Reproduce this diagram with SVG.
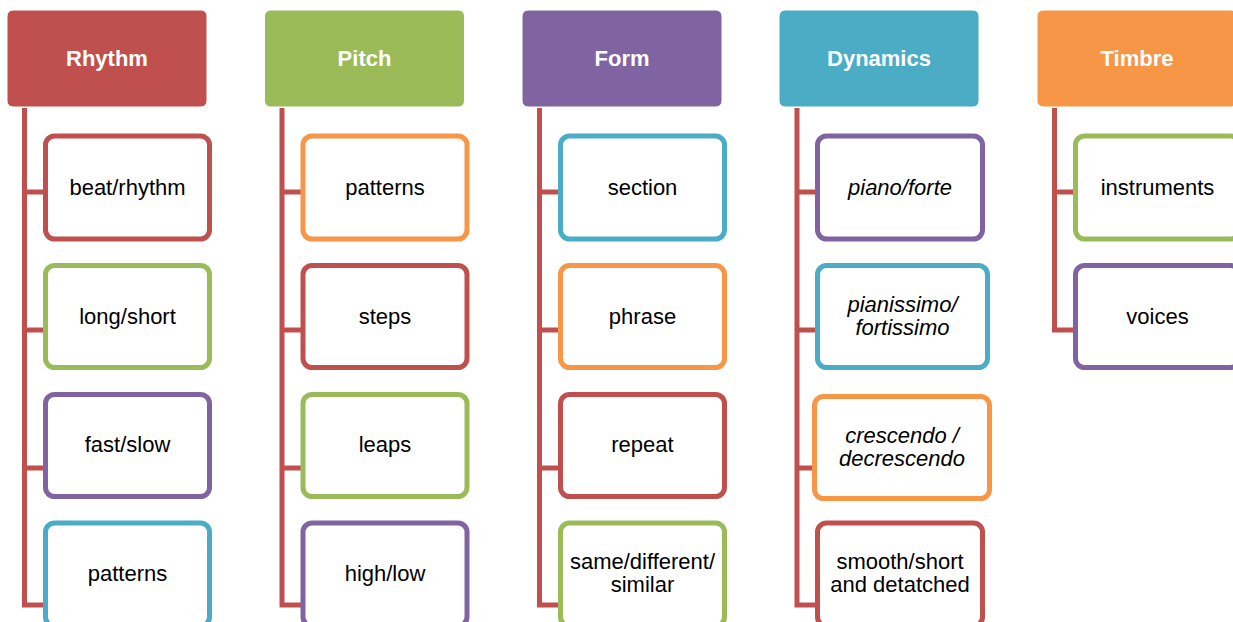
<svg xmlns="http://www.w3.org/2000/svg" width="1233" height="622" viewBox="0 0 1233 622">
  <style>
    .hdr { stroke: #ffffff; stroke-width: 1; }
    .hdr-text { font-family: "Liberation Sans", Arial, sans-serif; font-size: 22px; font-weight: bold; fill: #ffffff; text-anchor: middle; }
    .box { fill: #ffffff; stroke-width: 5; }
    .lbl { font-family: "Liberation Sans", Arial, sans-serif; font-size: 22px; fill: #000000; text-anchor: middle; }
    .it { font-style: italic; }
    .red { stroke: #C0504D; }
    .green { stroke: #9BBB59; }
    .purple { stroke: #8064A2; }
    .teal { stroke: #4BACC6; }
    .orange { stroke: #F79646; }
    .conn { fill: none; stroke: #C0504D; stroke-width: 5; }
  </style>

  <rect width="1233" height="622" fill="#ffffff"/>

  <!-- connectors: trunk from each header with a branch to every child -->
  <g id="connectors" class="conn">
    <path d="M24.5 108 V607.5 M24.5 192 H45 M24.5 330 H45 M24.5 468 H45 M24.5 605 H45"/>
    <path d="M282 108 V607.5 M282 192 H302 M282 330 H302 M282 468 H302 M282 605 H302"/>
    <path d="M539.5 108 V607.5 M539.5 192 H560 M539.5 330 H560 M539.5 468 H560 M539.5 605 H560"/>
    <path d="M797 108 V607.5 M797 192 H817 M797 330 H817 M797 468 H814 M797 605 H817"/>
    <path d="M1054.5 108 V332.5 M1054.5 192 H1075 M1054.5 330 H1075"/>
  </g>

  <!-- Rhythm -->
  <g id="rhythm">
    <rect class="hdr" x="7" y="10" width="200" height="97" rx="6" fill="#C0504D"/>
    <text class="hdr-text" x="107" y="66">Rhythm</text>
  </g>
  <g id="rhythm-beat">
    <rect class="box red" x="45.5" y="136" width="164" height="103" rx="9"/>
    <text class="lbl" x="127.5" y="195">beat/rhythm</text>
  </g>
  <g id="rhythm-length">
    <rect class="box green" x="45.5" y="265.5" width="164" height="102" rx="9"/>
    <text class="lbl" x="127.5" y="324">long/short</text>
  </g>
  <g id="rhythm-tempo">
    <rect class="box purple" x="45.5" y="394.5" width="164" height="102" rx="9"/>
    <text class="lbl" x="127.5" y="452">fast/slow</text>
  </g>
  <g id="rhythm-patterns">
    <rect class="box teal" x="45.5" y="523" width="164" height="103" rx="9"/>
    <text class="lbl" x="127.5" y="581">patterns</text>
  </g>

  <!-- Pitch -->
  <g id="pitch">
    <rect class="hdr" x="264.5" y="10" width="200" height="97" rx="6" fill="#9BBB59"/>
    <text class="hdr-text" x="364.5" y="66">Pitch</text>
  </g>
  <g id="pitch-patterns">
    <rect class="box orange" x="303" y="136" width="164" height="103" rx="9"/>
    <text class="lbl" x="385" y="195">patterns</text>
  </g>
  <g id="pitch-steps">
    <rect class="box red" x="303" y="265.5" width="164" height="102" rx="9"/>
    <text class="lbl" x="385" y="324">steps</text>
  </g>
  <g id="pitch-leaps">
    <rect class="box green" x="303" y="394.5" width="164" height="102" rx="9"/>
    <text class="lbl" x="385" y="452">leaps</text>
  </g>
  <g id="pitch-register">
    <rect class="box purple" x="303" y="523" width="164" height="103" rx="9"/>
    <text class="lbl" x="385" y="581">high/low</text>
  </g>

  <!-- Form -->
  <g id="form">
    <rect class="hdr" x="522" y="10" width="200" height="97" rx="6" fill="#8064A2"/>
    <text class="hdr-text" x="622" y="66">Form</text>
  </g>
  <g id="form-section">
    <rect class="box teal" x="560.5" y="136" width="164" height="103" rx="9"/>
    <text class="lbl" x="642.5" y="195">section</text>
  </g>
  <g id="form-phrase">
    <rect class="box orange" x="560.5" y="265.5" width="164" height="102" rx="9"/>
    <text class="lbl" x="642.5" y="324">phrase</text>
  </g>
  <g id="form-repeat">
    <rect class="box red" x="560.5" y="394.5" width="164" height="102" rx="9"/>
    <text class="lbl" x="642.5" y="452">repeat</text>
  </g>
  <g id="form-compare">
    <rect class="box green" x="560.5" y="523" width="164" height="103" rx="9"/>
    <text class="lbl" x="642.5" y="569">same/different/</text>
    <text class="lbl" x="642.5" y="592">similar</text>
  </g>

  <!-- Dynamics -->
  <g id="dynamics">
    <rect class="hdr" x="779" y="10" width="200" height="97" rx="6" fill="#4BACC6"/>
    <text class="hdr-text" x="879" y="66">Dynamics</text>
  </g>
  <g id="dynamics-pf">
    <rect class="box purple" x="817.5" y="136" width="165" height="103" rx="9"/>
    <text class="lbl it" x="900" y="195">piano/forte</text>
  </g>
  <g id="dynamics-ppff">
    <rect class="box teal" x="817.5" y="265.5" width="170" height="102" rx="9"/>
    <text class="lbl it" x="902.5" y="312">pianissimo/</text>
    <text class="lbl it" x="902.5" y="335">fortissimo</text>
  </g>
  <g id="dynamics-cresc">
    <rect class="box orange" x="814.5" y="396.5" width="175" height="102" rx="9"/>
    <text class="lbl it" x="902" y="443">crescendo /</text>
    <text class="lbl it" x="902" y="466">decrescendo</text>
  </g>
  <g id="dynamics-artic">
    <rect class="box red" x="817.5" y="523" width="165" height="103" rx="9"/>
    <text class="lbl" x="900" y="569">smooth/short</text>
    <text class="lbl" x="900" y="592">and detatched</text>
  </g>

  <!-- Timbre -->
  <g id="timbre">
    <rect class="hdr" x="1037" y="10" width="200" height="97" rx="6" fill="#F79646"/>
    <text class="hdr-text" x="1137" y="66">Timbre</text>
  </g>
  <g id="timbre-instruments">
    <rect class="box green" x="1075.5" y="136" width="164" height="103" rx="9"/>
    <text class="lbl" x="1157.5" y="195">instruments</text>
  </g>
  <g id="timbre-voices">
    <rect class="box purple" x="1075.5" y="265.5" width="164" height="102" rx="9"/>
    <text class="lbl" x="1157.5" y="324">voices</text>
  </g>
</svg>
